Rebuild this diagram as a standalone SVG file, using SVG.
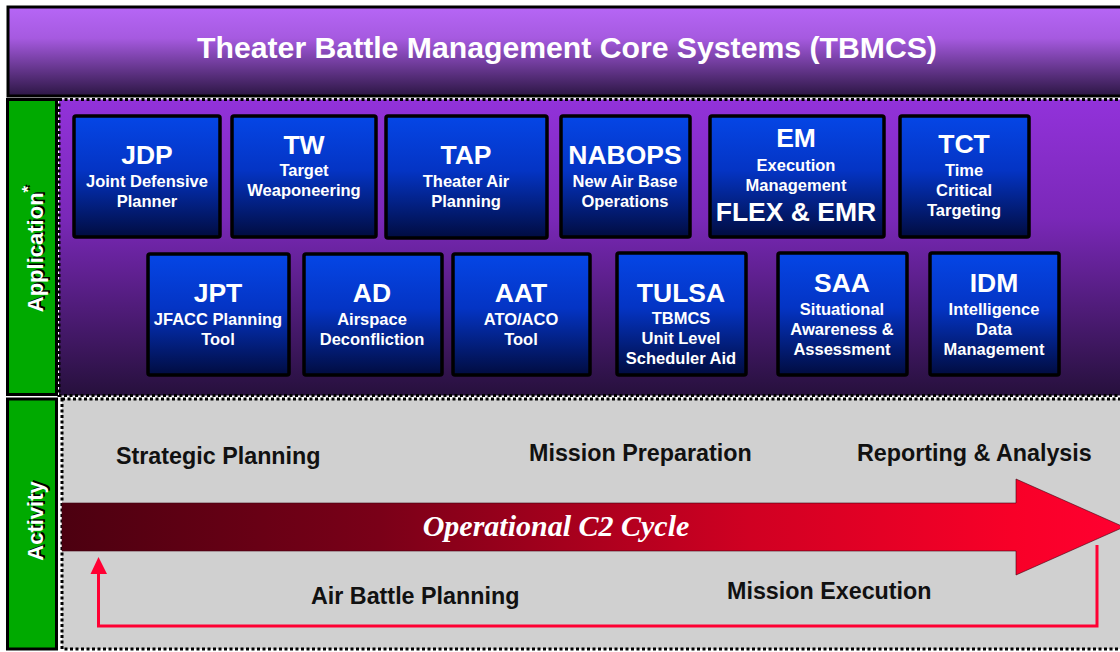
<svg xmlns="http://www.w3.org/2000/svg" width="1120" height="652" viewBox="0 0 1120 652">
<defs>
<linearGradient id="gTitle" x1="0" y1="0" x2="0" y2="1">
<stop offset="0" stop-color="#b666f6"/><stop offset="0.35" stop-color="#a65ae0"/><stop offset="1" stop-color="#2c1644"/>
</linearGradient>
<linearGradient id="gApp" x1="0" y1="0" x2="0" y2="1">
<stop offset="0" stop-color="#9232da"/><stop offset="0.4" stop-color="#7a28b8"/><stop offset="1" stop-color="#26103c"/>
</linearGradient>
<linearGradient id="gBox" x1="0" y1="0" x2="0" y2="1">
<stop offset="0" stop-color="#0546e6"/><stop offset="0.45" stop-color="#0434c4"/><stop offset="1" stop-color="#010c40"/>
</linearGradient>
<linearGradient id="gArrow" x1="62" y1="0" x2="1120" y2="0" gradientUnits="userSpaceOnUse">
<stop offset="0" stop-color="#4c0010"/><stop offset="0.3" stop-color="#7a0018"/><stop offset="0.65" stop-color="#d00022"/><stop offset="0.9" stop-color="#f80028"/><stop offset="1" stop-color="#ff0030"/>
</linearGradient>
<style>
.box{fill:url(#gBox);stroke:#000;stroke-width:3.5}
.ac{font-family:"Liberation Sans",Arial,sans-serif;font-weight:bold;font-size:26.5px;fill:#fff;text-anchor:middle}
.sb{font-family:"Liberation Sans",Arial,sans-serif;font-weight:bold;font-size:16.5px;fill:#fff;text-anchor:middle}
.act{font-family:"Liberation Sans",Arial,sans-serif;font-weight:bold;font-size:23.3px;fill:#111}
.side{font-family:"Liberation Sans",Arial,sans-serif;font-weight:bold;font-size:22px;text-anchor:middle}
.green{fill:#00aa00;stroke:#000;stroke-width:3}
</style>
</defs>
<rect width="1120" height="652" fill="#fff"/>
<g id="title">
<rect x="8" y="7" width="1116" height="89" fill="url(#gTitle)" stroke="#000" stroke-width="3"/>
<text x="567" y="58" font-family="'Liberation Sans',Arial,sans-serif" font-weight="bold" font-size="30.2" fill="#fff" text-anchor="middle">Theater Battle Management Core Systems (TBMCS)</text>
</g>
<g id="application-area">
<rect x="59" y="99.5" width="1066" height="296" fill="url(#gApp)" stroke="#000" stroke-width="3" stroke-dasharray="3,2.5"/>
</g>
<g id="activity-area">
<rect x="62" y="399" width="1063" height="250" fill="#d0d0d0" stroke="#000" stroke-width="3" stroke-dasharray="3,2.5"/>
</g>
<g id="label-application">
<rect class="green" x="7.5" y="99.5" width="49" height="295"/>
<text class="side" font-size="23" transform="translate(35,249) rotate(-90)" x="1.5" y="9.5" fill="#000">Application<tspan font-size="17" dy="-9">*</tspan></text>
<text class="side" font-size="23" transform="translate(35,249) rotate(-90)" x="0" y="8" fill="#fff">Application<tspan font-size="17" dy="-9">*</tspan></text>
</g>
<g id="label-activity">
<rect class="green" x="7.5" y="399" width="49" height="250"/>
<text class="side" transform="translate(35,521) rotate(-90)" x="1.5" y="9.5" fill="#000">Activity</text>
<text class="side" transform="translate(35,521) rotate(-90)" x="0" y="8" fill="#fff">Activity</text>
</g>
<g id="node-JDP"><rect class="box" x="74" y="116" width="146" height="121" rx="2"/>
<text class="ac" x="147" y="164">JDP</text><text class="sb" x="147" y="187">Joint Defensive</text><text class="sb" x="147" y="207">Planner</text></g>
<g id="node-TW"><rect class="box" x="232" y="116" width="144" height="121" rx="2"/>
<text class="ac" x="304" y="154">TW</text><text class="sb" x="304" y="176">Target</text><text class="sb" x="304" y="196">Weaponeering</text></g>
<g id="node-TAP"><rect class="box" x="386" y="116" width="161" height="122" rx="2"/>
<text class="ac" x="466" y="164">TAP</text><text class="sb" x="466" y="187">Theater Air</text><text class="sb" x="466" y="207">Planning</text></g>
<g id="node-NABOPS"><rect class="box" x="561" y="116" width="129" height="121" rx="2"/>
<text class="ac" x="625" y="164">NABOPS</text><text class="sb" x="625" y="187">New Air Base</text><text class="sb" x="625" y="207">Operations</text></g>
<g id="node-EM"><rect class="box" x="710" y="116" width="174" height="121" rx="2"/>
<text class="ac" x="796" y="147">EM</text><text class="sb" x="796" y="171">Execution</text><text class="sb" x="796" y="191">Management</text><text class="ac" x="796" y="221">FLEX &amp; EMR</text></g>
<g id="node-TCT"><rect class="box" x="900" y="116" width="129" height="121" rx="2"/>
<text class="ac" x="964" y="153">TCT</text><text class="sb" x="964" y="176">Time</text><text class="sb" x="964" y="196">Critical</text><text class="sb" x="964" y="216">Targeting</text></g>
<g id="node-JPT"><rect class="box" x="148" y="254" width="141" height="121" rx="2"/>
<text class="ac" x="218" y="302">JPT</text><text class="sb" x="218" y="325">JFACC Planning</text><text class="sb" x="218" y="345">Tool</text></g>
<g id="node-AD"><rect class="box" x="304" y="254" width="138" height="121" rx="2"/>
<text class="ac" x="372" y="302">AD</text><text class="sb" x="372" y="325">Airspace</text><text class="sb" x="372" y="345">Deconfliction</text></g>
<g id="node-AAT"><rect class="box" x="453" y="254" width="137" height="121" rx="2"/>
<text class="ac" x="521" y="302">AAT</text><text class="sb" x="521" y="325">ATO/ACO</text><text class="sb" x="521" y="345">Tool</text></g>
<g id="node-TULSA"><rect class="box" x="617" y="253" width="129" height="122" rx="2"/>
<text class="ac" x="681" y="302">TULSA</text><text class="sb" x="681" y="324">TBMCS</text><text class="sb" x="681" y="344">Unit Level</text><text class="sb" x="681" y="364">Scheduler Aid</text></g>
<g id="node-SAA"><rect class="box" x="778" y="253" width="129" height="122" rx="2"/>
<text class="ac" x="842" y="292">SAA</text><text class="sb" x="842" y="315">Situational</text><text class="sb" x="842" y="335">Awareness &amp;</text><text class="sb" x="842" y="355">Assessment</text></g>
<g id="node-IDM"><rect class="box" x="930" y="253" width="129" height="122" rx="2"/>
<text class="ac" x="994" y="292">IDM</text><text class="sb" x="994" y="315">Intelligence</text><text class="sb" x="994" y="335">Data</text><text class="sb" x="994" y="355">Management</text></g>
<g id="activity-labels">
<text class="act" x="116" y="464">Strategic Planning</text>
<text class="act" x="529" y="461">Mission Preparation</text>
<text class="act" x="857" y="461">Reporting &amp; Analysis</text>
<text class="act" x="311" y="604">Air Battle Planning</text>
<text class="act" x="727" y="599">Mission Execution</text>
</g>
<g id="connectors">
<path d="M62,503 L1016,503 L1016,479 L1124,527 L1016,575 L1016,551 L62,551 Z" fill="url(#gArrow)" stroke="#400010" stroke-width="0.6"/>
<text x="556" y="536" font-family="'Liberation Serif','Times New Roman',serif" font-weight="bold" font-style="italic" font-size="30" fill="#fff" text-anchor="middle">Operational C2 Cycle</text>
<polyline points="1097,545 1097,626 98.5,626 98.5,572" fill="none" stroke="#ff0033" stroke-width="3"/>
<path d="M90.5,574 L98.5,557 L107,574 Z" fill="#ff0033"/>
</g>
</svg>
